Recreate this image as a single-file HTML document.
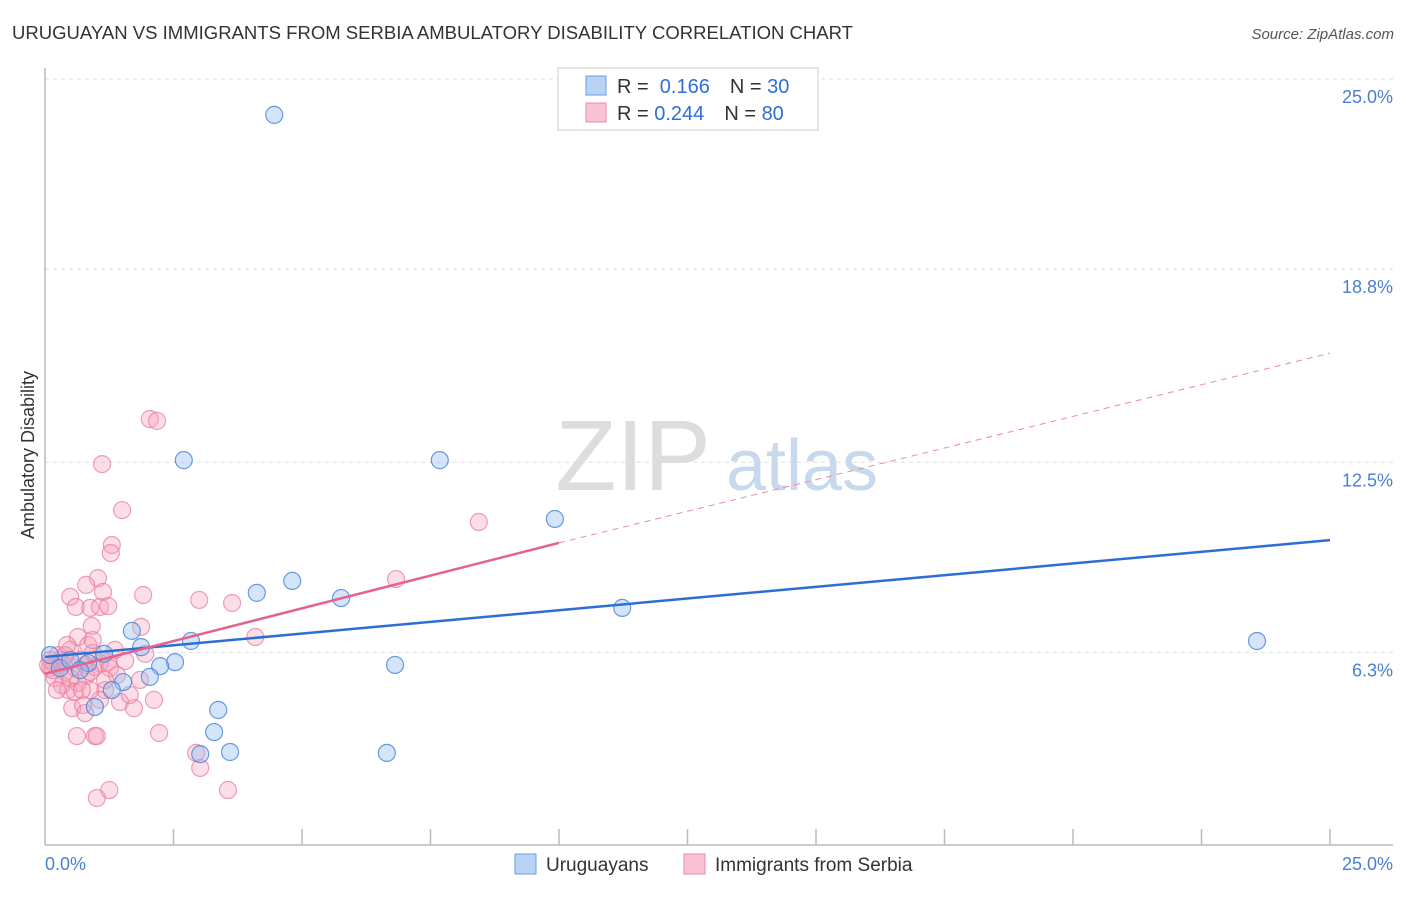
<!DOCTYPE html>
<html><head><meta charset="utf-8"><style>
body{margin:0;background:#fff;font-family:"Liberation Sans",sans-serif}
svg text{font-family:"Liberation Sans",sans-serif}
</style></head><body>
<svg id="chart" width="1406" height="892" viewBox="0 0 1406 892">
<text x="12" y="39" font-size="18" fill="#333" textLength="841" lengthAdjust="spacingAndGlyphs">URUGUAYAN VS IMMIGRANTS FROM SERBIA AMBULATORY DISABILITY CORRELATION CHART</text>
<text x="1394" y="39" font-size="15" fill="#555" text-anchor="end" font-style="italic">Source: ZipAtlas.com</text>
<g id="grid"></g>
<text x="633" y="490" font-size="100" fill="#ddd" font-family="Liberation Serif" text-anchor="middle">ZIP</text>
<text x="802" y="490" font-size="72" fill="#c8d9ee" text-anchor="middle">atlas</text>
<line x1="45" y1="68" x2="45" y2="845" stroke="#bbb" stroke-width="1.5"/>
<line x1="45" y1="845" x2="1393" y2="845" stroke="#bbb" stroke-width="1.5"/>
<g id="ticks"></g>
<g id="pts"></g>
<g id="lines"></g>
<text x="34" y="455" font-size="18" fill="#333" text-anchor="middle" transform="rotate(-90 34 455)">Ambulatory Disability</text>
<text x="45" y="870" font-size="18" fill="#4a7fd4">0.0%</text>
<text x="1393" y="870" font-size="18" fill="#4a7fd4" text-anchor="end">25.0%</text>
<g>
<rect x="558" y="68" width="260" height="62" fill="#fff" stroke="#ccc"/>
<rect x="586" y="76" width="20" height="19" fill="#b8d3f5" stroke="#6a9de0"/>
<rect x="586" y="103" width="20" height="19" fill="#f9c3d3" stroke="#e88aa8"/>
<text x="617" y="93" font-size="20" fill="#333">R = <tspan fill="#2e6fd6">&#160;0.166</tspan><tspan dx="20">N = </tspan><tspan fill="#2e6fd6">30</tspan></text>
<text x="617" y="120" font-size="20" fill="#333">R = <tspan fill="#2e6fd6">0.244</tspan><tspan dx="20">N = </tspan><tspan fill="#2e6fd6">80</tspan></text>
</g>
<g>
<rect x="515" y="854" width="21" height="20" fill="#b8d3f5" stroke="#6a9de0"/>
<text x="546" y="871" font-size="19" fill="#333">Uruguayans</text>
<rect x="684" y="854" width="21" height="20" fill="#f9c3d3" stroke="#e88aa8"/>
<text x="715" y="871" font-size="19" fill="#333">Immigrants from Serbia</text>
</g>
</svg>
<script>
const yTicks=[25.0,18.8,12.5,6.3];
const yTickLabels=["25.0%","18.8%","12.5%","6.3%"];
const xTicks=[2.5,5,7.5,10,12.5,15,17.5,20,22.5,25];
const bluePx=[[274,115],[184,460],[440,460],[555,519],[292,581],[257,593],[341,598],[622,608],[1257,641],[132,631],[191,641],[141,647],[104,654],[175,662],[160,666],[395,665],[150,677],[123,682],[112,690],[95,707],[218,710],[214,732],[230,752],[200,754],[387,753],[50,655],[88,663],[60,668],[70,660],[80,670]];
const pinkPx=[[150,419],[157,421],[102,464],[122,510],[112,545],[111,553],[479,522],[98,578],[396,579],[70,597],[86,585],[143,595],[103,592],[199,600],[232,603],[76,607],[90,608],[100,607],[108,606],[141,627],[92,626],[78,637],[88,645],[255,637],[145,654],[125,661],[93,653],[70,650],[60,660],[55,665],[50,668],[65,672],[75,668],[85,665],[95,667],[100,663],[55,678],[62,685],[68,690],[78,683],[86,676],[90,672],[108,662],[117,675],[105,690],[100,700],[72,708],[83,705],[120,702],[154,700],[134,708],[85,713],[77,736],[95,736],[97,736],[159,733],[196,753],[200,768],[228,790],[97,798],[109,790],[50,660],[52,670],[58,655],[48,665],[62,663],[70,678],[80,660],[110,668],[65,655],[75,692],[90,690],[57,690],[105,680],[82,690],[130,695],[140,680],[93,640],[115,650],[67,645]];
const blueX=bluePx.map(p=>+((p[0]-45)/1285*25).toFixed(2));
const blueY=bluePx.map(p=>+(25-(p[1]-79)/30.66).toFixed(2));
const pinkX=pinkPx.map(p=>+((p[0]-45)/1285*25).toFixed(2));
const pinkY=pinkPx.map(p=>+(25-(p[1]-79)/30.66).toFixed(2));
const blueTrend=[[0,6.15],[25,9.96]];
const pinkTrend=[[0,5.6],[10,9.87],[25,16.06]];
const sx=v=>45+v/25*1285, sy=v=>79+(25-v)*30.66;
const NS="http://www.w3.org/2000/svg";
function mk(t,a,parent){const e=document.createElementNS(NS,t);for(const k in a)e.setAttribute(k,a[k]);document.getElementById(parent).appendChild(e);return e;}
yTicks.forEach((v,i)=>{
 const l=mk('line',{x1:45,x2:1393,y1:sy(v),y2:sy(v),stroke:'#ddd','stroke-dasharray':'4,4'},'grid');
 
 
 const t=mk('text',{x:1393,y:sy(v)+24,'font-size':18,fill:'#4a7fd4','text-anchor':'end'},'grid');
 t.textContent=yTickLabels[i];
 
 
});
xTicks.forEach(v=>{
 const l=mk('line',{x1:sx(v),x2:sx(v),y1:829,y2:845,stroke:'#bbb','stroke-width':1.5},'ticks');
 
 
});
pinkX.forEach((x,i)=>{
 const c=mk('circle',{cx:sx(x),cy:sy(pinkY[i]),r:8.5,fill:'rgba(245,160,185,0.35)',stroke:'rgba(230,120,155,0.7)','stroke-width':1.2},'pts');
 
 
});
blueX.forEach((x,i)=>{
 const c=mk('circle',{cx:sx(x),cy:sy(blueY[i]),r:8.5,fill:'rgba(150,190,240,0.4)',stroke:'rgba(70,130,215,0.8)','stroke-width':1.2},'pts');
 
 
});
let l=mk('line',{x1:sx(blueTrend[0][0]),y1:sy(blueTrend[0][1]),x2:sx(blueTrend[1][0]),y2:sy(blueTrend[1][1]),stroke:'#2b6fd4','stroke-width':2.5},'lines');


l=mk('line',{x1:sx(pinkTrend[0][0]),y1:sy(pinkTrend[0][1]),x2:sx(pinkTrend[1][0]),y2:sy(pinkTrend[1][1]),stroke:'#e5628e','stroke-width':2.5},'lines');


l=mk('line',{x1:sx(pinkTrend[1][0]),y1:sy(pinkTrend[1][1]),x2:sx(pinkTrend[2][0]),y2:sy(pinkTrend[2][1]),stroke:'#e98aa8','stroke-width':1,'stroke-dasharray':'6,5'},'lines');


</script>
</body></html>
